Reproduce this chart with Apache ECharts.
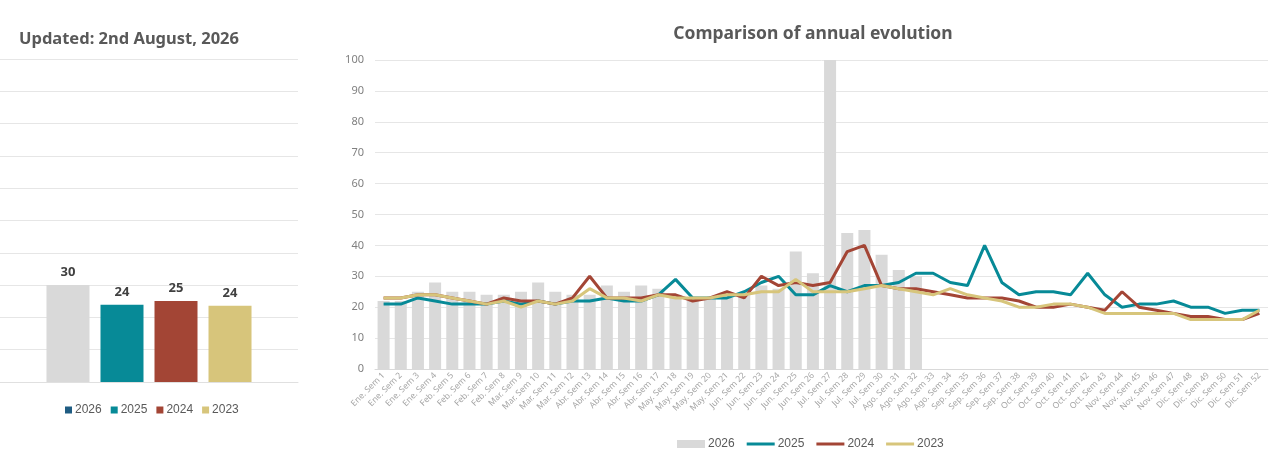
<!DOCTYPE html>
<html>
<head>
<meta charset="utf-8">
<script src="https://cdn.jsdelivr.net/npm/echarts@6/dist/echarts.min.js"></script>
<style>
html,body{margin:0;padding:0;background:#fff;}
#chart{width:1285px;height:466px;}
</style>
</head>
<body>
<div id="chart"></div>
<script>
const categories = [
  'Ene. Sem 1','Ene. Sem 2','Ene. Sem 3','Ene. Sem 4',
  'Feb. Sem 5','Feb. Sem 6','Feb. Sem 7','Feb. Sem 8',
  'Mar. Sem 9','Mar. Sem 10','Mar. Sem 11','Mar. Sem 12',
  'Abr. Sem 13','Abr. Sem 14','Abr. Sem 15','Abr. Sem 16','Abr. Sem 17',
  'May. Sem 18','May. Sem 19','May. Sem 20','May. Sem 21',
  'Jun. Sem 22','Jun. Sem 23','Jun. Sem 24','Jun. Sem 25','Jun. Sem 26',
  'Jul. Sem 27','Jul. Sem 28','Jul. Sem 29','Jul. Sem 30',
  'Ago. Sem 31','Ago. Sem 32','Ago. Sem 33','Ago. Sem 34',
  'Sep. Sem 35','Sep. Sem 36','Sep. Sem 37','Sep. Sem 38',
  'Oct. Sem 39','Oct. Sem 40','Oct. Sem 41','Oct. Sem 42','Oct. Sem 43',
  'Nov. Sem 44','Nov. Sem 45','Nov. Sem 46','Nov. Sem 47',
  'Dic. Sem 48','Dic. Sem 49','Dic. Sem 50','Dic. Sem 51','Dic. Sem 52'
];

const bars2026 = [22,22,25,28,25,25,24,24,25,28,25,24,24,27,25,27,26,24,22,23,23,24,27,26,38,31,100,44,45,37,32,30];

const line2025 = [21,21,23,22,21,21,21,22,21,22,21,22,22,23,22,22,24,29,23,23,23,25,28,30,24,24,27,25,27,27,28,31,31,28,27,40,28,24,25,25,24,31,24,20,21,21,22,20,20,18,19,19];

const line2024 = [23,23,24,24,23,22,21,23,22,22,21,23,30,23,23,23,24,24,22,23,25,23,30,27,28,27,28,38,40,27,26,26,25,24,23,23,23,22,20,20,21,20,19,25,20,19,18,17,17,16,16,18];

const line2023 = [23,23,24,24,23,22,21,22,20,22,21,22,26,23,23,22,24,23,23,23,24,24,25,25,29,25,25,25,26,27,26,25,24,26,24,23,22,20,20,21,21,20,18,18,18,18,18,16,16,16,16,19];

const summaryYears = ['2026','2025','2024','2023'];
const summaryValues = [30.0, 23.9, 25.1, 23.6];

const yMax = 100;
const yInterval = 10;

const colors = {
  '2026': '#d9d9d9',
  '2025': '#078a97',
  '2024': '#a34535',
  '2023': '#d7c57b'
};
const legend2026Color = '#1f5c82';
const lineIcon = 'path://M0,0H28V3H0Z';

const chart = echarts.init(document.getElementById('chart'), null, {renderer: 'canvas'});

const gridLine = {show: true, lineStyle: {color: '#e6e6e6', width: 1}};

const leftSeries = summaryYears.map((y, i) => ({
  name: y,
  type: 'bar',
  xAxisIndex: 0,
  yAxisIndex: 0,
  data: [summaryValues[i]],
  barWidth: 43,
  barGap: '25.6%',
  itemStyle: {color: colors[y]},
  label: {
    show: true,
    position: 'top',
    distance: 6,
    formatter: p => Math.round(p.value),
    fontFamily: 'Noto Sans',
    fontWeight: 'bold',
    fontSize: 13,
    color: '#404040'
  },
  emphasis: {disabled: true}
}));

const rightSeries = [
  {
    name: '2026 ',
    type: 'bar',
    xAxisIndex: 1,
    yAxisIndex: 1,
    data: bars2026,
    barCategoryGap: '30%',
    itemStyle: {color: colors['2026']},
    emphasis: {disabled: true},
    z: 1
  },
  {
    name: '2025 ', type: 'line', xAxisIndex: 1, yAxisIndex: 1, data: line2025,
    symbol: 'none', lineStyle: {color: colors['2025'], width: 3}, itemStyle: {color: colors['2025']}, z: 3
  },
  {
    name: '2024 ', type: 'line', xAxisIndex: 1, yAxisIndex: 1, data: line2024,
    symbol: 'none', lineStyle: {color: colors['2024'], width: 3}, itemStyle: {color: colors['2024']}, z: 4
  },
  {
    name: '2023 ', type: 'line', xAxisIndex: 1, yAxisIndex: 1, data: line2023,
    symbol: 'none', lineStyle: {color: colors['2023'], width: 3}, itemStyle: {color: colors['2023']}, z: 5
  }
];

const option = {
  animation: false,
  backgroundColor: '#ffffff',
  title: [
    {
      text: 'Updated: 2nd August, 2026',
      left: 14, top: 26,
      textStyle: {fontFamily: 'Noto Sans', fontWeight: 'bold', fontSize: 16.5, color: '#595959'}
    },
    {
      text: 'Comparison of annual evolution',
      left: 808, top: 20, textAlign: 'center',
      textStyle: {fontFamily: 'Noto Sans', fontWeight: 'bold', fontSize: 17.5, color: '#595959'}
    }
  ],
  legend: [
    {
      data: [{name: '2026', itemStyle: {color: legend2026Color}}, '2025', '2024', '2023'],
      left: 60, top: 399,
      icon: 'rect',
      itemWidth: 7, itemHeight: 7, itemGap: 9,
      textStyle: {fontFamily: 'Liberation Sans', fontSize: 12, color: '#595959', padding: [0, 0, 0, -2]},
      selectedMode: false
    },
    {
      data: [
        {name: '2026 ', icon: 'rect'},
        {name: '2025 ', icon: lineIcon},
        {name: '2024 ', icon: lineIcon},
        {name: '2023 ', icon: lineIcon}
      ],
      formatter: n => n.trim(),
      left: 672, top: 433,
      itemWidth: 28, itemHeight: 8, itemGap: 12,
      textStyle: {fontFamily: 'Liberation Sans', fontSize: 12, color: '#595959', padding: [0, 0, 0, -2]},
      selectedMode: false
    }
  ],
  grid: [
    {left: 0, top: 59, width: 298, bottom: 84, containLabel: false},
    {left: 375, top: 60, right: 17, bottom: 97, containLabel: false}
  ],
  xAxis: [
    {
      type: 'category', gridIndex: 0, data: ['Total'],
      axisLine: {show: true, lineStyle: {color: '#e0e0e0'}},
      axisTick: {show: false}, axisLabel: {show: false}
    },
    {
      type: 'category', gridIndex: 1, data: categories, boundaryGap: true,
      axisLine: {show: true, lineStyle: {color: '#d9d9d9'}},
      axisTick: {show: false},
      axisLabel: {
        interval: 0, rotate: 45, margin: 5,
        fontFamily: 'Noto Sans', fontSize: 8.5, color: '#a6a6a6'
      }
    }
  ],
  yAxis: [
    {
      type: 'value', gridIndex: 0, min: 0, max: yMax, interval: yInterval,
      axisLine: {show: false}, axisTick: {show: false}, axisLabel: {show: false},
      splitLine: gridLine
    },
    {
      type: 'value', gridIndex: 1, min: 0, max: yMax, interval: yInterval,
      axisLine: {show: false}, axisTick: {show: false},
      axisLabel: {margin: 11, fontFamily: 'Noto Sans', fontSize: 11, color: '#808080'},
      splitLine: gridLine
    }
  ],
  series: leftSeries.concat(rightSeries)
};

chart.setOption(option);
</script>
</body>
</html>
